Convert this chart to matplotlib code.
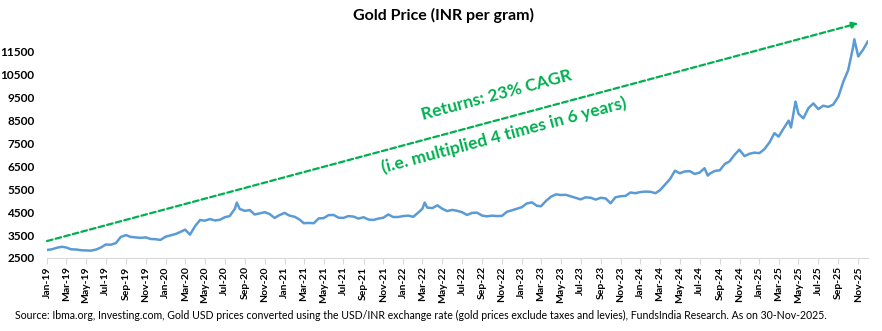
import numpy as np
import pandas as pd
import matplotlib
matplotlib.use("Agg")
import matplotlib.pyplot as plt
import matplotlib.dates as mdates

# gold price INR per gram (roughly twice a month)
dates = [
    "2019-01-01", "2019-01-16", "2019-02-01", "2019-02-16", "2019-03-01", "2019-03-16",
    "2019-04-01", "2019-04-16", "2019-05-01", "2019-05-16", "2019-06-01", "2019-06-16",
    "2019-07-01", "2019-07-16", "2019-08-01", "2019-08-16", "2019-09-01", "2019-09-16",
    "2019-10-01", "2019-10-16", "2019-11-01", "2019-11-16", "2019-12-01", "2019-12-16",
    "2020-01-01", "2020-01-16", "2020-02-01", "2020-02-16", "2020-03-01", "2020-03-16",
    "2020-04-01", "2020-04-16", "2020-05-01", "2020-05-16", "2020-06-01", "2020-06-16",
    "2020-07-01", "2020-07-16", "2020-08-01", "2020-08-07", "2020-08-16", "2020-09-01",
    "2020-09-16", "2020-10-01", "2020-10-16", "2020-11-01", "2020-11-16", "2020-12-01",
    "2020-12-16",
    "2021-01-01", "2021-01-16", "2021-02-01", "2021-02-16", "2021-03-01", "2021-03-16",
    "2021-04-01", "2021-04-16", "2021-05-01", "2021-05-16", "2021-06-01", "2021-06-16",
    "2021-07-01", "2021-07-16", "2021-08-01", "2021-08-16", "2021-09-01", "2021-09-16",
    "2021-10-01", "2021-10-16", "2021-11-01", "2021-11-16", "2021-12-01", "2021-12-16",
    "2022-01-01", "2022-01-16", "2022-02-01", "2022-02-16", "2022-03-01", "2022-03-08",
    "2022-03-16", "2022-04-01", "2022-04-16", "2022-05-01", "2022-05-16", "2022-06-01",
    "2022-06-16", "2022-07-01", "2022-07-16", "2022-08-01", "2022-08-16", "2022-09-01",
    "2022-09-16", "2022-10-01", "2022-10-16", "2022-11-01", "2022-11-16", "2022-12-01",
    "2022-12-16",
    "2023-01-01", "2023-01-16", "2023-02-01", "2023-02-16", "2023-03-01", "2023-03-16",
    "2023-04-01", "2023-04-16", "2023-05-01", "2023-05-16", "2023-06-01", "2023-06-16",
    "2023-07-01", "2023-07-16", "2023-08-01", "2023-08-16", "2023-09-01", "2023-09-16",
    "2023-10-01", "2023-10-16", "2023-11-01", "2023-11-16", "2023-12-01", "2023-12-16",
    "2024-01-01", "2024-01-16", "2024-02-01", "2024-02-16", "2024-03-01", "2024-03-16",
    "2024-04-01", "2024-04-16", "2024-05-01", "2024-05-16", "2024-06-01", "2024-06-16",
    "2024-07-01", "2024-07-16", "2024-07-26", "2024-08-01", "2024-08-16", "2024-09-01",
    "2024-09-16", "2024-10-01", "2024-10-16", "2024-10-31", "2024-11-16", "2024-12-01",
    "2024-12-16",
    "2025-01-01", "2025-01-16", "2025-02-01", "2025-02-16", "2025-03-01", "2025-03-16",
    "2025-04-01", "2025-04-08", "2025-04-22", "2025-05-01", "2025-05-16", "2025-06-01",
    "2025-06-16", "2025-07-01", "2025-07-16", "2025-08-01", "2025-08-16", "2025-09-01",
    "2025-09-16", "2025-10-01", "2025-10-16", "2025-10-20", "2025-11-01", "2025-11-16",
    "2025-11-30",
]
price = [
    2850, 2880, 2950, 2990, 2960, 2880,
    2870, 2840, 2830, 2820, 2870, 2960,
    3090, 3080, 3150, 3420, 3500, 3420,
    3400, 3380, 3400, 3330, 3320, 3290,
    3430, 3490, 3550, 3640, 3740, 3520,
    3900, 4160, 4130, 4200, 4140, 4170,
    4280, 4330, 4650, 4920, 4640, 4560,
    4590, 4400, 4450, 4500, 4420, 4250,
    4370,
    4470, 4350, 4300, 4180, 4020, 4030,
    4020, 4230, 4240, 4370, 4380, 4260,
    4250, 4330, 4310, 4220, 4280, 4180,
    4160, 4220, 4260, 4400, 4290, 4290,
    4330, 4350, 4300, 4480, 4650, 4920,
    4700, 4680, 4800, 4650, 4550, 4600,
    4560, 4500, 4380, 4470, 4480, 4350,
    4320, 4350, 4330, 4340, 4520, 4580,
    4650,
    4720, 4880, 4930, 4780, 4760, 4990,
    5180, 5280, 5250, 5260, 5190, 5120,
    5060, 5150, 5130, 5050, 5130, 5100,
    4890, 5150, 5200, 5210, 5360, 5330,
    5380, 5400, 5390, 5330, 5460, 5700,
    5950, 6310, 6200, 6280, 6290, 6170,
    6230, 6420, 6100, 6180, 6300, 6330,
    6600, 6720, 7000, 7230, 6950, 7050,
    7100,
    7080, 7250, 7550, 7950, 7800, 8150,
    8500, 8200, 9330, 8800, 8600, 9050,
    9250, 9000, 9150, 9100, 9200, 9550,
    10200, 10700, 11700, 12050, 11300, 11600,
    11950,
]

# trend arrow end points (date, price)
trend_dates = ["2019-01-01", "2025-11-01"]
trend_vals = [3240, 12750]

yticks = list(range(2500, 12500, 1000))

font = "Lato"
blue = "#5B9BD5"
green = "#00B050"

dt = pd.to_datetime(dates)
td = pd.to_datetime(trend_dates)

fig = plt.figure(figsize=(8.82, 3.31), dpi=100)
ax = fig.add_axes([47/882, 73/331, 821/882, 229/331])

ax.plot(dt, price, color=blue, lw=1.8)

ax.annotate("", xy=(td[1], trend_vals[1]), xytext=(td[0], trend_vals[0]),
            annotation_clip=False,
            arrowprops=dict(arrowstyle="-|>", color=green, lw=1.6, ls=(0, (2.6, 1.4)),
                            mutation_scale=9, shrinkA=0, shrinkB=0))

ax.set_xlim(pd.Timestamp("2019-01-01"), pd.Timestamp("2025-12-01"))
ax.set_ylim(2500, 12500)
ax.set_yticks(yticks)
ax.set_yticklabels([str(v) for v in yticks], fontfamily=font, fontweight="bold", fontsize=8.5)
ax.tick_params(axis="y", length=0, pad=9)

ax.xaxis.set_major_locator(mdates.MonthLocator(bymonth=[1, 3, 5, 7, 9, 11]))
ax.xaxis.set_major_formatter(mdates.DateFormatter("%b-%y"))
ax.tick_params(axis="x", length=4, color="#D9D9D9", pad=2)
for lab in ax.get_xticklabels():
    lab.set_rotation(90)
    lab.set_fontfamily(font)
    lab.set_fontweight("bold")
    lab.set_fontsize(7.5)

for s in ["top", "right", "left"]:
    ax.spines[s].set_visible(False)
ax.spines["bottom"].set_color("#D9D9D9")

fig.text(443/882, 1 - 15/331, "Gold Price (INR per gram)", ha="center", va="center",
         fontfamily=font, fontweight="bold", fontsize=11.5)

fig.text(497/882, 1 - 95/331, "Returns: 23% CAGR", ha="center", va="center",
         rotation=15, rotation_mode="anchor", color=green,
         fontfamily=font, fontweight="bold", fontsize=12.5)
fig.text(504/882, 1 - 135/331, "(i.e. multiplied 4 times in 6 years)", ha="center", va="center",
         rotation=15, rotation_mode="anchor", color=green,
         fontfamily=font, fontweight="bold", fontsize=12.5)

fig.text(15/882, 1 - 315/331,
         "Source: Ibma.org, Investing.com, Gold USD prices converted using the USD/INR exchange rate "
         "(gold prices exclude taxes and levies), FundsIndia Research. As on 30-Nov-2025.",
         ha="left", va="center", fontfamily=font, fontsize=7.6)

fig.savefig("out.png", dpi=100)
